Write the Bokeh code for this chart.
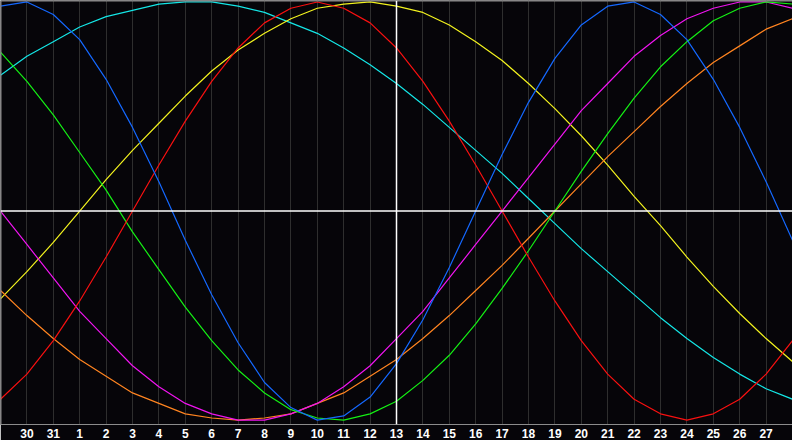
from bokeh.plotting import figure
from bokeh.models import Range1d, FixedTicker, Span
from bokeh.embed import file_html
from bokeh.resources import INLINE

# day labels under each grid line (index 15 = today)
day_labels = ["29", "30", "31"] + [str(i) for i in range(1, 29)]
days = list(range(len(day_labels)))
today = day_labels.index("13")

# cycle values in percent, one per day
physical = [98, 100, 94, 82, 63, 40, 14, -14, -40, -63, -82, -94, -100, -98, -89, -73,
            -52, -27, 0, 27, 52, 73, 89, 98, 100, 94, 82, 63, 40, 14, -14]
emotional = [-90, -78, -62, -43, -22, 0, 22, 43, 62, 78, 90, 97, 100, 97, 90, 78,
             62, 43, 22, 0, -22, -43, -62, -78, -90, -97, -100, -97, -90, -78, -62]
intellectual = [76, 62, 46, 28, 10, -10, -28, -46, -62, -76, -87, -95, -99, -100, -97, -91,
                -81, -69, -54, -37, -19, 0, 19, 37, 54, 69, 81, 91, 97, 100, 99]
intuitive = [0, -16, -32, -48, -61, -74, -84, -92, -97, -100, -100, -97, -92, -84, -74, -61,
             -48, -32, -16, 0, 16, 32, 48, 61, 74, 84, 92, 97, 100, 100, 97]
aesthetic = [-42, -29, -15, 0, 15, 29, 42, 55, 67, 77, 85, 92, 97, 99, 100, 98,
             95, 89, 81, 72, 61, 49, 36, 22, 7, -7, -22, -36, -49, -61, -72]
awareness = [-38, -50, -61, -71, -79, -87, -92, -97, -99, -100, -99, -97, -92, -87, -79, -71,
             -61, -50, -38, -26, -13, 0, 13, 26, 38, 50, 61, 71, 79, 87, 92]
spiritual = [65, 74, 81, 88, 93, 96, 99, 100, 100, 98, 95, 90, 85, 78, 70, 61,
             51, 40, 29, 18, 6, -6, -18, -29, -40, -51, -61, -70, -78, -85, -90]

bg = "#060509"

p = figure(width=792, height=440, output_backend="svg", toolbar_location=None,
           x_range=Range1d(0, len(days) - 1), y_range=Range1d(-102.1, 100.7),
           y_axis_location=None, min_border=0,
           background_fill_color=bg, border_fill_color=bg, outline_line_color=None)

ticks = days[1:-1]
p.xaxis.ticker = FixedTicker(ticks=ticks)
p.xaxis.major_label_overrides = {d: day_labels[d] for d in ticks}
p.xaxis.axis_line_color = "#8c8c8c"
p.xaxis.major_tick_line_color = None
p.xaxis.minor_tick_line_color = None
p.xaxis.major_tick_out = 0
p.xaxis.major_label_standoff = 4
p.xaxis.major_label_text_color = "white"
p.xaxis.major_label_text_font = "Liberation Sans"
p.xaxis.major_label_text_font_style = "bold"
p.xaxis.major_label_text_font_size = "12px"

p.xgrid.ticker = FixedTicker(ticks=ticks)
p.xgrid.grid_line_color = "#2e2e2e"
p.ygrid.grid_line_color = None

# frame edges (left, top) and the white cross at today / zero
p.add_layout(Span(location=0, dimension="height", line_color="#8c8c8c", line_width=2))
p.add_layout(Span(location=100.7, dimension="width", line_color="#8c8c8c", line_width=2))
p.add_layout(Span(location=0, dimension="width", line_color="white", line_width=1.5))
p.add_layout(Span(location=today, dimension="height", line_color="white", line_width=1.5))

series = [
    (spiritual, "#14e6e6"),
    (aesthetic, "#f2f21e"),
    (awareness, "#ff8420"),
    (intuitive, "#f014f0"),
    (intellectual, "#14f014"),
    (emotional, "#f81010"),
    (physical, "#1468ff"),
]
for vals, col in series:
    p.line(days, vals, line_color=col, line_width=1.2)

open("out.html", "w").write(file_html(p, INLINE))
